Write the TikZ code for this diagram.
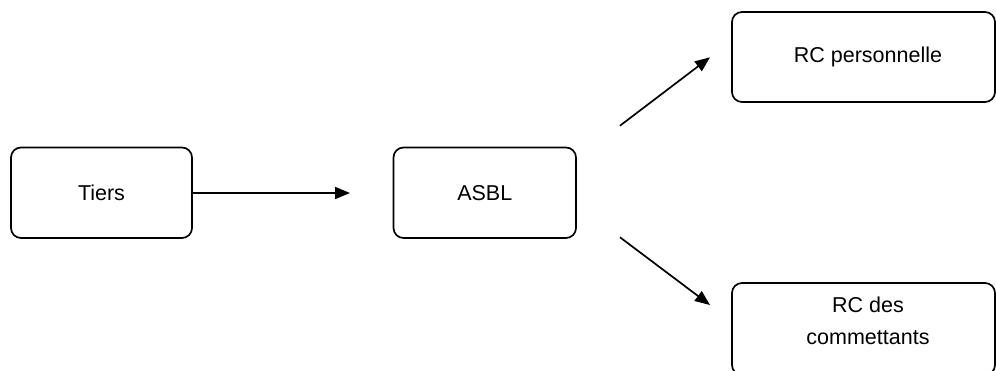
\documentclass[tikz,border=0pt]{standalone}
\usepackage{fontspec}
\setmainfont{Liberation Sans}
\usetikzlibrary{arrows.meta}
\begin{document}
\begin{tikzpicture}[x=1pt,y=1pt,
  box/.style={draw=black, line width=1.7pt, rounded corners=10pt, fill=white,
    inner sep=0pt, font=\fontsize{21.5}{32}\selectfont, align=center},
  conn/.style={line width=1.7pt, -{Triangle[length=15pt,width=12pt]}}]
\useasboundingbox (0,0) rectangle (996,370);
\clip (0,0) rectangle (996,370);
\fill[white] (0,0) rectangle (996,370);
% boxes
\node[box, minimum width=181pt, minimum height=90.5pt] (tiers) at (101.5,177.25) {Tiers};
\node[box, minimum width=182.5pt, minimum height=90.5pt] (asbl) at (484.75,177.25) {ASBL};
\node[box, minimum width=263pt, minimum height=90pt] (rcp) at (863.5,313) {\hspace*{9pt}RC personnelle};
\node[box, minimum width=263pt, minimum height=92pt] (rcc) at (863.5,41) {};
\node[font=\fontsize{21.5}{32}\selectfont, align=center, inner sep=0pt] (rcctext) at (868,49) {RC des\\commettants};
% connector ends
\coordinate (upstart) at (620,244.3);
\coordinate (upend) at (710,312.7);
\coordinate (dnstart) at (620,132.7);
\coordinate (dnend) at (710,65);
\coordinate (hend) at (350,177);
% connectors
\draw[conn] (tiers.east |- hend) -- (hend);
\draw[conn] (upstart) -- (upend);
\draw[conn] (dnstart) -- (dnend);
\end{tikzpicture}
\end{document}
